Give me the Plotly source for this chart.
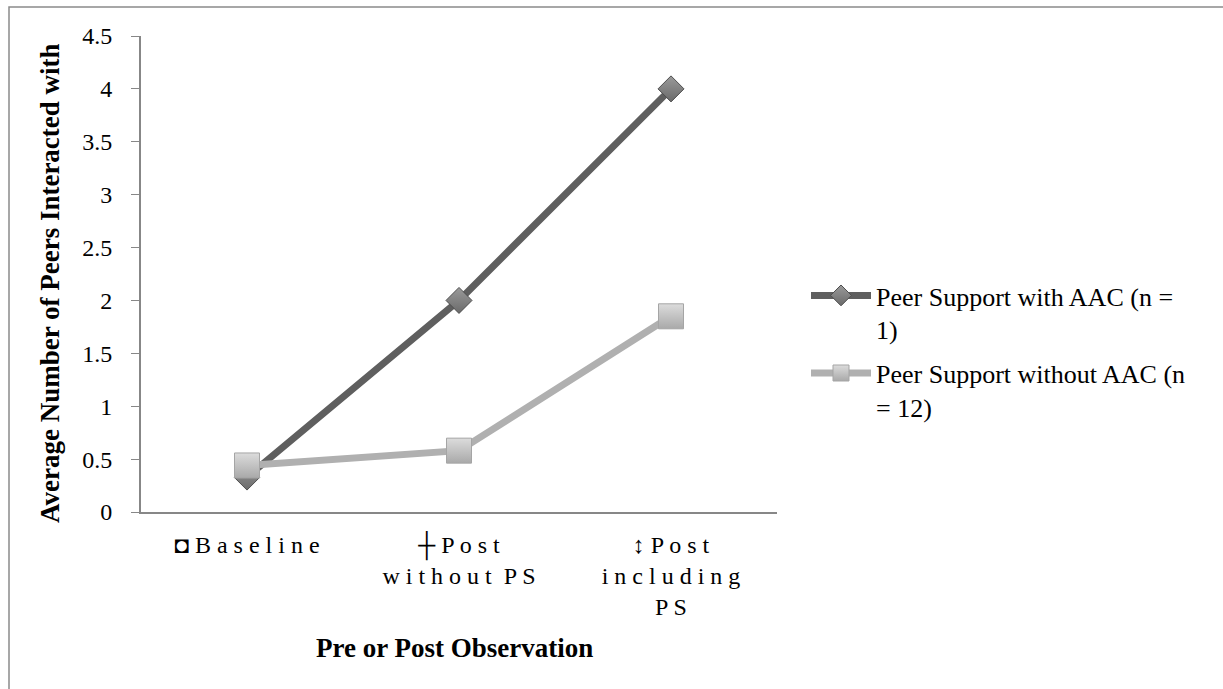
import plotly.graph_objects as go

categories = ["\u25d8 B a s e l i n e",
              "\u253c P o s t<br>w i t h o u t  P S",
              "\u2195 P o s t<br>i n c l u d i n g<br>P S"]
series_names = ["Peer Support with AAC (n =<br>1)", "Peer Support without AAC (n<br>= 12)"]
with_aac = [0.33, 2.0, 4.0]
without_aac = [0.44, 0.58, 1.85]
y_ticks = [0, 0.5, 1, 1.5, 2, 2.5, 3, 3.5, 4, 4.5]
y_ticklabels = ["0", "0.5", "1", "1.5", "2", "2.5", "3", "3.5", "4", "4.5"]
x_title = "Pre or Post Observation"
y_title = "Average Number of Peers Interacted with"

FONT = "Liberation Serif"
xpos = list(range(len(categories)))

fig = go.Figure()
fig.add_trace(go.Scatter(
    x=xpos, y=with_aac, name=series_names[0], mode="lines+markers", legendgroup="a",
    line=dict(color="#5f5f5f", width=7),
    marker=dict(symbol="diamond", size=20, color="#9a9a9a",
                gradient=dict(type="vertical", color="#6a6a6a"),
                line=dict(color="#4d4d4d", width=1)),
))
fig.add_trace(go.Scatter(
    x=xpos, y=without_aac, name=series_names[1], mode="lines+markers", legendgroup="b",
    line=dict(color="#b0b0b0", width=7),
    marker=dict(symbol="square", size=25, color="#dcdcdc",
                gradient=dict(type="vertical", color="#a9a9a9"),
                line=dict(color="#a5a5a5", width=1)),
))

L, T = 141, 36
W, H = 636, 476
fig.update_layout(
    width=1223, height=689,
    margin=dict(l=L, r=1223 - L - W, t=T, b=689 - T - H),
    paper_bgcolor="white", plot_bgcolor="white",
    font=dict(family=FONT, size=24, color="#000000"),
    showlegend=True,
    legend=dict(x=(806 - L) / W, y=(512 - 272) / H, xanchor="left", yanchor="top",
                font=dict(family=FONT, size=26), valign="top", itemwidth=60,
                tracegroupgap=7, bgcolor="rgba(0,0,0,0)"),
    xaxis=dict(range=[-0.5, 2.5], tickmode="array", tickvals=xpos, ticktext=categories,
               showline=True, linecolor="#878787", linewidth=2, ticks="",
               showgrid=False, zeroline=False, ticklabelstandoff=10,
               tickfont=dict(family=FONT, size=24)),
    yaxis=dict(range=[0, 4.5], tickmode="array", tickvals=y_ticks, ticktext=y_ticklabels,
               showline=True, linecolor="#878787", linewidth=2,
               ticks="outside", ticklen=8, tickcolor="#878787", tickwidth=1,
               showgrid=False, zeroline=False, ticklabelstandoff=14,
               tickfont=dict(family=FONT, size=24)),
    annotations=[
        dict(text="<b>" + x_title + "</b>", xref="paper", yref="paper",
             x=(454 - L) / W, y=(512 - 648) / H, xanchor="center", yanchor="middle",
             showarrow=False, font=dict(family=FONT, size=27)),
        dict(text="<b>" + y_title + "</b>", xref="paper", yref="paper",
             x=(50 - L) / W, y=(512 - 283) / H, xanchor="center", yanchor="middle",
             textangle=-90, showarrow=False, font=dict(family=FONT, size=27)),
    ],
    shapes=[dict(type="rect", xref="paper", yref="paper",
                 x0=(9 - L) / W, x1=(1240 - L) / W,
                 y0=(512 - 700) / H, y1=(512 - 7) / H,
                 line=dict(color="#8a8a8a", width=1.5), layer="below")],
)

fig.write_html("out.html")
